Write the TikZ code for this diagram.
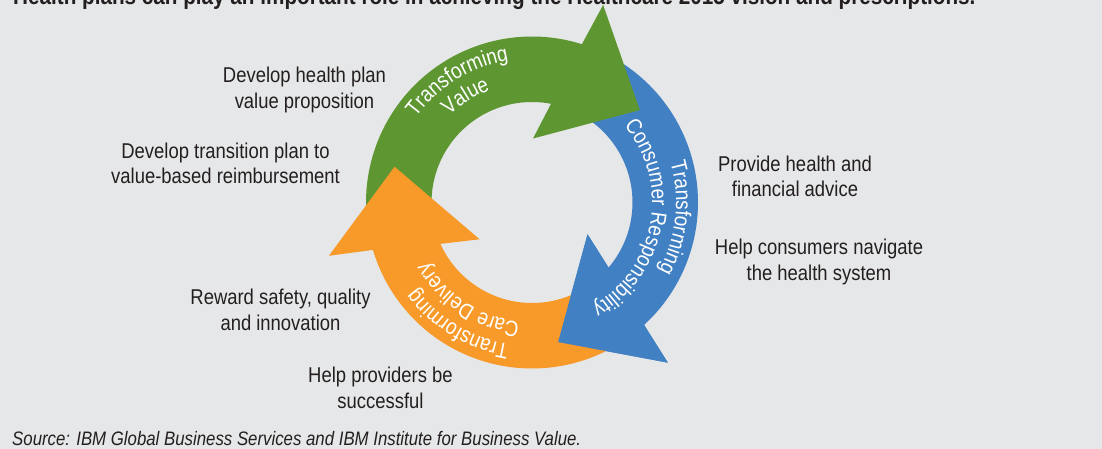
\documentclass[tikz,border=0pt]{standalone}
\usepackage{fontspec}
\setmainfont{Liberation Sans}[FakeStretch=0.862]
\usepackage{tikz}
\usetikzlibrary{decorations.text}
\definecolor{bggray}{RGB}{230,231,232}
\definecolor{valgreen}{RGB}{94,151,50}
\definecolor{conblue}{RGB}{66,128,196}
\definecolor{careorange}{RGB}{248,154,41}
\definecolor{inkgray}{RGB}{35,31,32}
\newcommand{\arcfont}{\color{white}\fontsize{22}{22}\selectfont}
\tikzset{
  note/.style={font=\fontsize{21.4}{25.6}\selectfont, text=inkgray, align=center, anchor=base, inner sep=0pt},
  arcword/.style={decorate, decoration={text along path, text align=center, text={|\arcfont|#1}}},
}

\begin{document}
\begin{tikzpicture}[x=1pt, y=1pt]
  \useasboundingbox (0,0) rectangle (1102,-449);
  \fill[bggray] (0,0) rectangle (1102,-449);

  \node[anchor=base west, inner sep=0pt, text=inkgray, font=\fontsize{24}{28}\selectfont\bfseries] (heading) at (13,-4.5)
    {Health plans can play an important role in achieving the Healthcare 2015 vision and prescriptions.};

  % the three arrows round the cycle
  \begin{scope}[shift={(532,-202.5)}]
    \fill[conblue] (60:166) arc[start angle=60, end angle=-47.6, radius=166] -- (-49.7:210) -- (-79.4:142) -- (-29.8:64) -- (-40.3:100.5) arc[start angle=-40.3, end angle=60, radius=100.5] -- cycle;
    \fill[valgreen] (185:166) arc[start angle=185, end angle=72.5, radius=166] -- (70.2:210) -- (40.6:142) -- (89.1:64) -- (79.1:100.5) arc[start angle=79.1, end angle=185, radius=100.5] -- cycle;
    \fill[careorange] (300:166) arc[start angle=300, end angle=196.6, radius=166] -- (194.7:210) -- (165.4:142) -- (215.1:64) -- (204.3:100.5) arc[start angle=204.3, end angle=300, radius=100.5] -- cycle;
    \fill[conblue] (-49.7:210) -- (-79.4:142) -- (-29.8:64) -- cycle;

    \path[arcword=Transforming] (191.5:144) arc[start angle=191.5, end angle=51.5, radius=144];
    \path[arcword=Value] (192:120) arc[start angle=192, end angle=52, radius=120];
    \path[arcword=Transforming] (64:144) arc[start angle=64, end angle=-76, radius=144];
    \path[arcword=Consumer Responsibility] (80:120) arc[start angle=80, end angle=-100, radius=120];
    \path[arcword=Transforming] (308.7:144) arc[start angle=308.7, end angle=168.7, radius=144];
    \path[arcword=Care Delivery] (306.7:120) arc[start angle=306.7, end angle=166.7, radius=120];
  \end{scope}

  \node[note] (devplan) at (304.5,-108.3) {Develop health plan\\value proposition};
  \node[note] (transplan) at (225.5,-184) {Develop transition plan to\\value-based reimbursement};
  \node[note] (advice) at (795,-196.7) {Provide health and\\financial advice};
  \node[note] (navigate) at (819,-280) {Help consumers navigate\\the health system};
  \node[note] (reward) at (280.5,-330) {Reward safety, quality\\and innovation};
  \node[note] (providers) at (380.5,-408) {Help providers be\\successful};

  \node[anchor=base west, inner sep=0pt, text=inkgray, font=\fontsize{19.5}{23}\selectfont\itshape] (credit) at (12,-445)
    {Source: IBM Global Business Services and IBM Institute for Business Value.};
\end{tikzpicture}
\end{document}
